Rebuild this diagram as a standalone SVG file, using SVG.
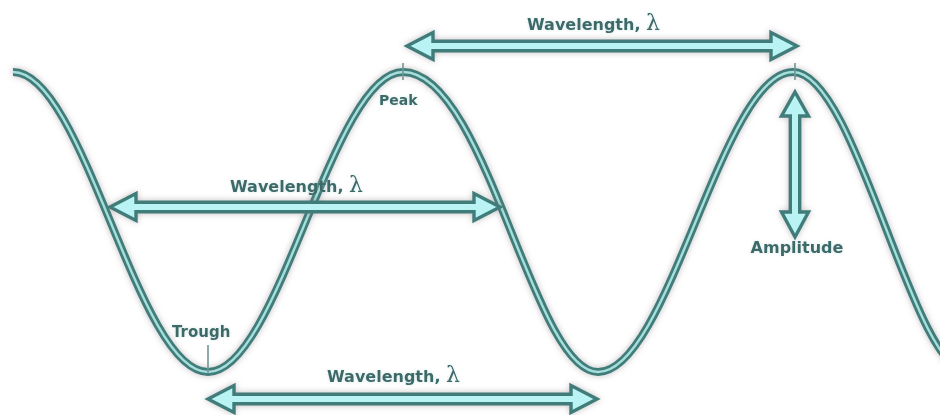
<svg xmlns="http://www.w3.org/2000/svg" width="940" height="415" viewBox="0 0 940 415">
<defs>
<filter id="glow" x="-5%" y="-10%" width="110%" height="120%">
<feGaussianBlur in="SourceAlpha" stdDeviation="3" result="b"/>
<feFlood flood-color="#7d7078" flood-opacity="0.45"/>
<feComposite in2="b" operator="in"/>
<feMerge><feMergeNode/><feMergeNode in="SourceGraphic"/></feMerge>
</filter>
<filter id="tglow" x="-10%" y="-30%" width="120%" height="160%">
<feGaussianBlur in="SourceAlpha" stdDeviation="1.5" result="b"/>
<feFlood flood-color="#a8c8c8" flood-opacity="0.5"/>
<feComposite in2="b" operator="in"/>
<feMerge><feMergeNode/><feMergeNode in="SourceGraphic"/></feMerge>
</filter>
</defs>
<style>
.wave-out{fill:none;stroke:#3f7d7a;stroke-width:8}
.wave-in{fill:none;stroke:#a6dedb;stroke-width:2.4}
.arrow{fill:#b9f3f3;stroke:#3f7d7a;stroke-width:3.4;stroke-linejoin:miter}
.lbl{font-family:"DejaVu Sans",Verdana,sans-serif;font-weight:bold;font-size:16px;fill:#3a6a69}
.lam{font-family:"DejaVu Serif","Liberation Serif",serif;font-weight:normal;font-size:22px;fill:#3a6a69}
.tick{stroke:#6f9795;stroke-width:1.6}
</style>
<rect width="940" height="415" fill="#ffffff"/>

<g id="wave" filter="url(#glow)">
<path class="wave-out" d="M13,72 C83.9,72 137.1,372 208,372 C278.9,372 332.1,72 403,72 C486,72 533,372 598,372 C668.9,372 722.1,72 793,72 C856.6,72 912.4,372 968,372"/>
<path class="wave-in" d="M13,72 C83.9,72 137.1,372 208,372 C278.9,372 332.1,72 403,72 C486,72 533,372 598,372 C668.9,372 722.1,72 793,72 C856.6,72 912.4,372 968,372"/>
</g>

<g id="ticks">
<line class="tick" x1="403" y1="63" x2="403" y2="80"/>
<line class="tick" x1="795" y1="63" x2="795" y2="80"/>
<line class="tick" x1="208" y1="345" x2="208" y2="373"/>
</g>

<g id="connectors" filter="url(#glow)">
<polygon id="arrow-top" class="arrow" points="407,46 433,32.5 433,41.3 771,41.3 771,32.5 797,46 771,59.5 771,50.7 433,50.7 433,59.5"/>
<polygon id="arrow-mid" class="arrow" points="110,207 136,193.5 136,202.3 474,202.3 474,193.5 500,207 474,220.5 474,211.7 136,211.7 136,220.5"/>
<polygon id="arrow-bot" class="arrow" points="208,399 234,385.5 234,394.3 571,394.3 571,385.5 597,399 571,412.5 571,403.7 234,403.7 234,412.5"/>
<polygon id="arrow-amp" class="arrow" points="795,92 808.5,116 799.7,116 799.7,212 808.5,212 795,237 781.5,212 790.3,212 790.3,116 781.5,116"/>
</g>

<g id="label-top" filter="url(#tglow)">
<text class="lbl" x="527" y="30">Wavelength, <tspan class="lam">λ</tspan></text>
</g>
<g id="label-mid" filter="url(#tglow)">
<text class="lbl" x="230" y="192">Wavelength, <tspan class="lam">λ</tspan></text>
</g>
<g id="label-bot" filter="url(#tglow)">
<text class="lbl" x="327" y="382">Wavelength, <tspan class="lam">λ</tspan></text>
</g>
<g id="label-peak" filter="url(#tglow)">
<text class="lbl" x="379" y="105" style="font-size:14px">Peak</text>
</g>
<g id="label-trough" filter="url(#tglow)">
<text class="lbl" x="172" y="337" style="font-size:15px">Trough</text>
</g>
<g id="label-amplitude" filter="url(#tglow)">
<text class="lbl" x="797" y="253" text-anchor="middle" style="font-size:16px">Amplitude</text>
</g>
</svg>
